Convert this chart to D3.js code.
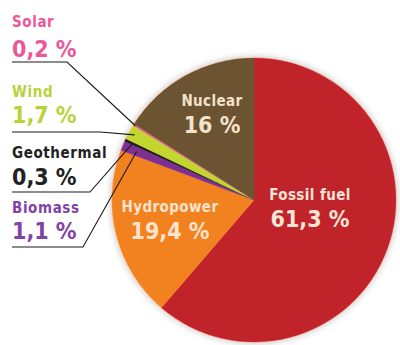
<!DOCTYPE html>
<html>
<head>
<meta charset="utf-8">
<script src="https://cdn.jsdelivr.net/npm/d3@7/dist/d3.min.js"></script>
<style>
  html, body { margin: 0; padding: 0; background: #fff; }
  svg { display: block; }
  text { font-family: "DejaVu Sans Condensed", "DejaVu Sans", sans-serif; font-stretch: condensed; font-weight: bold; }
</style>
</head>
<body>
<svg id="chart" width="400" height="345"></svg>
<script>
// Electricity generation by source (share, %)
const sources = ["Fossil fuel", "Hydropower", "Biomass", "Geothermal", "Wind", "Solar", "Nuclear"];
const shares  = [61.3, 19.4, 1.1, 0.3, 1.7, 0.2, 16];
const colors  = ["#c1232b", "#f2821f", "#7d2f92", "#1c1c1c", "#c3d52f", "#ea5d9a", "#6c5433"];
const shareLabels = ["61,3 %", "19,4 %", "1,1 %", "0,3 %", "1,7 %", "0,2 %", "16 %"];

// Small slices get side labels with leader lines; large ones are labelled inside
const outsideOrder = ["Solar", "Wind", "Geothermal", "Biomass"];
const outsideTextColors = {"Solar": "#e8589a", "Wind": "#b9d23a", "Geothermal": "#222222", "Biomass": "#8243a6"};

const svg = d3.select("#chart");
const cx = 254, cy = 200, r = 142;

const defs = svg.append("defs");
const glow = defs.append("filter").attr("id", "glow")
  .attr("x", "-20%").attr("y", "-20%").attr("width", "140%").attr("height", "140%");
glow.append("feGaussianBlur").attr("in", "SourceAlpha").attr("stdDeviation", 3).attr("result", "b");
glow.append("feFlood").attr("flood-color", "#9a9aa8").attr("flood-opacity", 0.55);
glow.append("feComposite").attr("in2", "b").attr("operator", "in").attr("result", "s");
const m = glow.append("feMerge");
m.append("feMergeNode").attr("in", "s");
m.append("feMergeNode").attr("in", "SourceGraphic");

const data = sources.map((s, i) => ({ name: s, value: shares[i], color: colors[i], label: shareLabels[i] }));
const pie = d3.pie().value(d => d.value).sort(null).startAngle(0).endAngle(2 * Math.PI);
const arcs = pie(data);
const arc = d3.arc().innerRadius(0).outerRadius(r);

const g = svg.append("g").attr("transform", `translate(${cx},${cy})`);

// light rim with soft shadow behind the pie
g.append("circle").attr("r", r + 1.5).attr("fill", "#f6dccb").attr("filter", "url(#glow)");

g.selectAll("path.slice").data(arcs).enter().append("path")
  .attr("class", "slice")
  .attr("d", arc)
  .attr("fill", d => d.data.color)
  .attr("stroke", d => d.data.color)
  .attr("stroke-width", 0.4);

// Inside labels
const inside = {
  "Fossil fuel": { pos: [56, 0], fill: "#f6e4d6" },
  "Hydropower":  { pos: [-84, 12], fill: "#fbe3cc" },
  "Nuclear":     { pos: [-42, -94], fill: "#f3e2cc" }
};
arcs.filter(a => inside[a.data.name]).forEach(a => {
  const o = inside[a.data.name];
  const t = g.append("g").attr("transform", `translate(${o.pos[0]},${o.pos[1]})`);
  t.append("text").attr("text-anchor", "middle").attr("y", 0)
    .attr("font-size", 15).attr("letter-spacing", 0.4).attr("fill", o.fill).text(a.data.name);
  t.append("text").attr("text-anchor", "middle").attr("y", 27)
    .attr("font-size", 23).attr("fill", o.fill).text(a.data.label);
});

// Side labels with leader lines
const sideLayout = {
  "Solar":      { nameY: 27,  valY: 57,  lineY: 62,  elbowX: 67,  endR: r - 2 },
  "Wind":       { nameY: 97,  valY: 123, lineY: 132, elbowX: 100, endR: r - 6 },
  "Geothermal": { nameY: 158, valY: 185, lineY: 192, elbowX: 90,  endR: r - 8 },
  "Biomass":    { nameY: 213, valY: 239, lineY: 247, elbowX: 83,  endR: r - 15 }
};
const side = svg.append("g");
outsideOrder.forEach(name => {
  const a = arcs.find(d => d.data.name === name);
  const L = sideLayout[name];
  const mid = (a.startAngle + a.endAngle) / 2;
  const ex = cx + L.endR * Math.sin(mid), ey = cy - L.endR * Math.cos(mid);
  side.append("path")
    .attr("d", d3.line()([[12, L.lineY], [L.elbowX, L.lineY], [ex, ey]]))
    .attr("fill", "none").attr("stroke", "#1a1a1a").attr("stroke-width", 1.1);
  side.append("text").attr("x", 12).attr("y", L.nameY)
    .attr("font-size", 15).attr("letter-spacing", 0.6).attr("fill", outsideTextColors[name]).text(name);
  side.append("text").attr("x", 12).attr("y", L.valY)
    .attr("font-size", 23).attr("fill", outsideTextColors[name]).text(a.data.label);
});
</script>
</body>
</html>
